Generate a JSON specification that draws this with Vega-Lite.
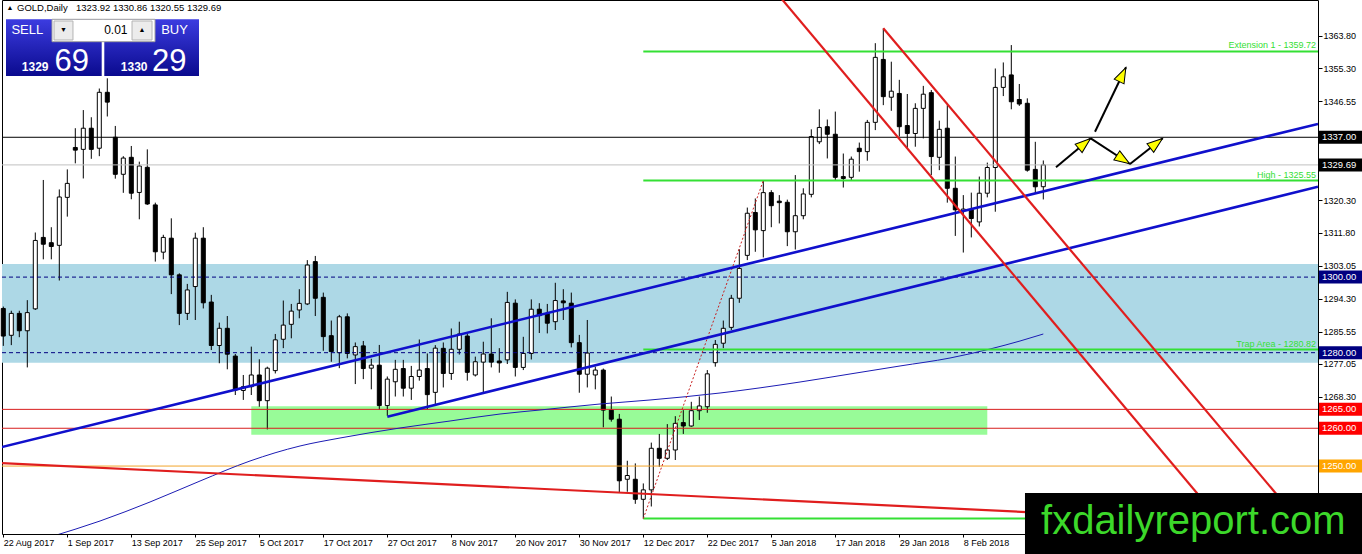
{
  "$schema": "https://vega.github.io/schema/vega-lite/v6.json",
  "description": "GOLD Daily, MT4 style chart with trend channels and levels",
  "width": 1316,
  "height": 534,
  "autosize": "none",
  "padding": {"left": 2, "top": 0, "right": 44, "bottom": 20},
  "background": "white",
  "view": {"stroke": "black", "strokeWidth": 1},
  "config": {"font": "Liberation Sans"},
  "datasets": {
    "candles": [
      {"d": "2017-08-22", "i": 0, "o": 1291.7, "h": 1292.2, "l": 1281.8, "c": 1284.4},
      {"d": "2017-08-23", "i": 1, "o": 1284.6, "h": 1291.1, "l": 1282.0, "c": 1290.4},
      {"d": "2017-08-24", "i": 2, "o": 1290.4, "h": 1291.1, "l": 1284.1, "c": 1285.8},
      {"d": "2017-08-25", "i": 3, "o": 1285.8, "h": 1293.9, "l": 1276.1, "c": 1290.6},
      {"d": "2017-08-28", "i": 4, "o": 1291.6, "h": 1311.8, "l": 1291.3, "c": 1309.7},
      {"d": "2017-08-29", "i": 5, "o": 1310.5, "h": 1325.7, "l": 1304.7, "c": 1308.7},
      {"d": "2017-08-30", "i": 6, "o": 1309.1, "h": 1313.2, "l": 1304.7, "c": 1308.1},
      {"d": "2017-08-31", "i": 7, "o": 1308.4, "h": 1323.2, "l": 1299.1, "c": 1321.2},
      {"d": "2017-09-01", "i": 8, "o": 1321.1, "h": 1328.5, "l": 1316.0, "c": 1324.8},
      {"d": "2017-09-04", "i": 9, "o": 1334.3, "h": 1339.4, "l": 1330.1, "c": 1333.6},
      {"d": "2017-09-05", "i": 10, "o": 1333.8, "h": 1344.2, "l": 1326.1, "c": 1339.4},
      {"d": "2017-09-06", "i": 11, "o": 1339.4, "h": 1342.3, "l": 1331.3, "c": 1333.8},
      {"d": "2017-09-07", "i": 12, "o": 1334.1, "h": 1349.9, "l": 1332.0, "c": 1348.9},
      {"d": "2017-09-08", "i": 13, "o": 1348.9, "h": 1352.6, "l": 1342.5, "c": 1346.3},
      {"d": "2017-09-11", "i": 14, "o": 1337.0, "h": 1340.0, "l": 1326.05, "c": 1327.2},
      {"d": "2017-09-12", "i": 15, "o": 1327.2, "h": 1332.0, "l": 1322.3, "c": 1331.5},
      {"d": "2017-09-13", "i": 16, "o": 1331.7, "h": 1334.7, "l": 1320.6, "c": 1322.2},
      {"d": "2017-09-14", "i": 17, "o": 1322.4, "h": 1330.55, "l": 1315.3, "c": 1329.4},
      {"d": "2017-09-15", "i": 18, "o": 1329.05, "h": 1333.8, "l": 1319.1, "c": 1319.35},
      {"d": "2017-09-18", "i": 19, "o": 1319.1, "h": 1319.7, "l": 1304.1, "c": 1306.7},
      {"d": "2017-09-19", "i": 20, "o": 1306.6, "h": 1311.2, "l": 1304.7, "c": 1310.5},
      {"d": "2017-09-20", "i": 21, "o": 1310.3, "h": 1315.55, "l": 1295.5, "c": 1300.6},
      {"d": "2017-09-21", "i": 22, "o": 1300.6, "h": 1301.0, "l": 1287.3, "c": 1290.4},
      {"d": "2017-09-22", "i": 23, "o": 1290.4, "h": 1298.2, "l": 1288.65, "c": 1296.6},
      {"d": "2017-09-25", "i": 24, "o": 1297.5, "h": 1311.75, "l": 1288.65, "c": 1310.3},
      {"d": "2017-09-26", "i": 25, "o": 1310.3, "h": 1313.2, "l": 1291.7, "c": 1293.2},
      {"d": "2017-09-27", "i": 26, "o": 1293.4, "h": 1295.3, "l": 1280.7, "c": 1281.9},
      {"d": "2017-09-28", "i": 27, "o": 1281.9, "h": 1287.95, "l": 1277.2, "c": 1286.45},
      {"d": "2017-09-29", "i": 28, "o": 1286.45, "h": 1289.7, "l": 1275.6, "c": 1279.6},
      {"d": "2017-10-02", "i": 29, "o": 1279.1, "h": 1279.65, "l": 1268.8, "c": 1270.1},
      {"d": "2017-10-03", "i": 30, "o": 1270.0, "h": 1274.1, "l": 1267.5, "c": 1271.0},
      {"d": "2017-10-04", "i": 31, "o": 1271.0, "h": 1281.6, "l": 1268.8, "c": 1274.1},
      {"d": "2017-10-05", "i": 32, "o": 1274.1, "h": 1278.25, "l": 1265.7, "c": 1267.3},
      {"d": "2017-10-06", "i": 33, "o": 1267.3, "h": 1276.3, "l": 1259.7, "c": 1275.9},
      {"d": "2017-10-09", "i": 34, "o": 1275.25, "h": 1284.95, "l": 1274.5, "c": 1283.4},
      {"d": "2017-10-10", "i": 35, "o": 1283.55, "h": 1293.8, "l": 1281.2, "c": 1287.3},
      {"d": "2017-10-11", "i": 36, "o": 1287.5, "h": 1292.9, "l": 1283.8, "c": 1291.0},
      {"d": "2017-10-12", "i": 37, "o": 1291.3, "h": 1296.8, "l": 1289.1, "c": 1293.05},
      {"d": "2017-10-13", "i": 38, "o": 1292.9, "h": 1304.5, "l": 1292.6, "c": 1303.2},
      {"d": "2017-10-16", "i": 39, "o": 1304.1, "h": 1305.6, "l": 1289.7, "c": 1294.4},
      {"d": "2017-10-17", "i": 40, "o": 1294.65, "h": 1295.9, "l": 1280.5, "c": 1284.25},
      {"d": "2017-10-18", "i": 41, "o": 1284.5, "h": 1288.5, "l": 1277.6, "c": 1280.3},
      {"d": "2017-10-19", "i": 42, "o": 1280.0, "h": 1290.0, "l": 1275.9, "c": 1289.5},
      {"d": "2017-10-20", "i": 43, "o": 1289.5, "h": 1290.4, "l": 1278.5, "c": 1279.8},
      {"d": "2017-10-23", "i": 44, "o": 1279.4, "h": 1282.7, "l": 1271.7, "c": 1281.6},
      {"d": "2017-10-24", "i": 45, "o": 1281.8, "h": 1283.1, "l": 1273.0, "c": 1275.8},
      {"d": "2017-10-25", "i": 46, "o": 1275.9, "h": 1278.4, "l": 1270.3, "c": 1276.7},
      {"d": "2017-10-26", "i": 47, "o": 1276.7, "h": 1282.05, "l": 1264.85, "c": 1266.0},
      {"d": "2017-10-27", "i": 48, "o": 1266.0, "h": 1273.7, "l": 1263.3, "c": 1273.0},
      {"d": "2017-10-30", "i": 49, "o": 1272.3, "h": 1278.1, "l": 1268.4, "c": 1275.6},
      {"d": "2017-10-31", "i": 50, "o": 1275.8, "h": 1278.1, "l": 1268.4, "c": 1270.6},
      {"d": "2017-11-01", "i": 51, "o": 1270.6, "h": 1276.5, "l": 1267.5, "c": 1273.7},
      {"d": "2017-11-02", "i": 52, "o": 1273.7, "h": 1283.5, "l": 1272.6, "c": 1275.4},
      {"d": "2017-11-03", "i": 53, "o": 1275.8, "h": 1279.8, "l": 1265.0, "c": 1268.9},
      {"d": "2017-11-06", "i": 54, "o": 1269.5, "h": 1282.0, "l": 1265.9, "c": 1281.2},
      {"d": "2017-11-07", "i": 55, "o": 1281.15, "h": 1282.7, "l": 1270.8, "c": 1274.5},
      {"d": "2017-11-08", "i": 56, "o": 1274.5, "h": 1286.4, "l": 1272.8, "c": 1280.9},
      {"d": "2017-11-09", "i": 57, "o": 1280.9, "h": 1288.2, "l": 1279.5, "c": 1284.95},
      {"d": "2017-11-10", "i": 58, "o": 1284.4, "h": 1285.1, "l": 1272.6, "c": 1274.8},
      {"d": "2017-11-13", "i": 59, "o": 1274.1, "h": 1278.95, "l": 1273.7, "c": 1277.6},
      {"d": "2017-11-14", "i": 60, "o": 1277.5, "h": 1282.9, "l": 1269.25, "c": 1279.65},
      {"d": "2017-11-15", "i": 61, "o": 1279.65, "h": 1289.1, "l": 1276.1, "c": 1277.5},
      {"d": "2017-11-16", "i": 62, "o": 1277.8, "h": 1281.2, "l": 1274.7, "c": 1277.3},
      {"d": "2017-11-17", "i": 63, "o": 1278.1, "h": 1296.1, "l": 1277.0, "c": 1293.3},
      {"d": "2017-11-20", "i": 64, "o": 1293.1, "h": 1294.1, "l": 1273.7, "c": 1276.1},
      {"d": "2017-11-21", "i": 65, "o": 1276.1, "h": 1284.2, "l": 1275.4, "c": 1279.8},
      {"d": "2017-11-22", "i": 66, "o": 1279.8, "h": 1294.1, "l": 1278.2, "c": 1291.5},
      {"d": "2017-11-23", "i": 67, "o": 1291.5, "h": 1293.1, "l": 1285.2, "c": 1289.8},
      {"d": "2017-11-24", "i": 68, "o": 1290.4, "h": 1292.9, "l": 1285.1, "c": 1287.8},
      {"d": "2017-11-27", "i": 69, "o": 1288.2, "h": 1298.5, "l": 1286.0, "c": 1293.8},
      {"d": "2017-11-28", "i": 70, "o": 1293.7, "h": 1296.8, "l": 1288.65, "c": 1293.2},
      {"d": "2017-11-29", "i": 71, "o": 1293.1, "h": 1295.9, "l": 1281.4, "c": 1282.65},
      {"d": "2017-11-30", "i": 72, "o": 1282.65, "h": 1284.7, "l": 1269.4, "c": 1274.3},
      {"d": "2017-12-01", "i": 73, "o": 1274.3, "h": 1288.65, "l": 1270.8, "c": 1279.9},
      {"d": "2017-12-04", "i": 74, "o": 1274.1, "h": 1276.3, "l": 1270.3, "c": 1275.4},
      {"d": "2017-12-05", "i": 75, "o": 1275.4, "h": 1275.8, "l": 1260.25, "c": 1264.8},
      {"d": "2017-12-06", "i": 76, "o": 1264.8, "h": 1268.4, "l": 1261.75, "c": 1262.4},
      {"d": "2017-12-07", "i": 77, "o": 1262.4, "h": 1263.8, "l": 1243.0, "c": 1246.1},
      {"d": "2017-12-08", "i": 78, "o": 1246.5, "h": 1251.4, "l": 1243.2, "c": 1247.5},
      {"d": "2017-12-11", "i": 79, "o": 1246.5, "h": 1250.7, "l": 1240.0, "c": 1241.2},
      {"d": "2017-12-12", "i": 80, "o": 1241.2, "h": 1245.4, "l": 1236.1, "c": 1243.7},
      {"d": "2017-12-13", "i": 81, "o": 1243.7, "h": 1256.2, "l": 1239.3, "c": 1254.7},
      {"d": "2017-12-14", "i": 82, "o": 1254.7, "h": 1258.5, "l": 1249.8, "c": 1252.05},
      {"d": "2017-12-15", "i": 83, "o": 1252.05, "h": 1261.1, "l": 1251.6, "c": 1254.25},
      {"d": "2017-12-18", "i": 84, "o": 1254.25, "h": 1263.2, "l": 1251.6, "c": 1261.3},
      {"d": "2017-12-19", "i": 85, "o": 1261.5, "h": 1264.8, "l": 1258.5, "c": 1260.6},
      {"d": "2017-12-20", "i": 86, "o": 1260.6, "h": 1267.0, "l": 1260.4, "c": 1264.65},
      {"d": "2017-12-21", "i": 87, "o": 1264.65, "h": 1268.4, "l": 1262.2, "c": 1265.9},
      {"d": "2017-12-22", "i": 88, "o": 1265.7, "h": 1275.4, "l": 1264.1, "c": 1274.4},
      {"d": "2017-12-26", "i": 89, "o": 1277.35, "h": 1283.35, "l": 1276.3, "c": 1282.2},
      {"d": "2017-12-27", "i": 90, "o": 1282.5, "h": 1288.5, "l": 1281.2, "c": 1286.45},
      {"d": "2017-12-28", "i": 91, "o": 1286.7, "h": 1295.3, "l": 1286.0, "c": 1294.4},
      {"d": "2017-12-29", "i": 92, "o": 1294.4, "h": 1307.35, "l": 1293.2, "c": 1302.3},
      {"d": "2018-01-02", "i": 93, "o": 1305.75, "h": 1318.4, "l": 1304.5, "c": 1316.9},
      {"d": "2018-01-03", "i": 94, "o": 1317.1, "h": 1320.8, "l": 1306.7, "c": 1312.5},
      {"d": "2018-01-04", "i": 95, "o": 1312.3, "h": 1325.55, "l": 1305.2, "c": 1322.35},
      {"d": "2018-01-05", "i": 96, "o": 1322.35, "h": 1323.0, "l": 1313.2, "c": 1318.9},
      {"d": "2018-01-08", "i": 97, "o": 1320.1, "h": 1321.7, "l": 1314.2, "c": 1319.7},
      {"d": "2018-01-09", "i": 98, "o": 1319.8, "h": 1320.5, "l": 1308.2, "c": 1312.0},
      {"d": "2018-01-10", "i": 99, "o": 1312.0, "h": 1327.0, "l": 1307.3, "c": 1316.25},
      {"d": "2018-01-11", "i": 100, "o": 1316.25, "h": 1323.5, "l": 1315.3, "c": 1322.0},
      {"d": "2018-01-12", "i": 101, "o": 1321.9, "h": 1339.1, "l": 1321.1, "c": 1337.2},
      {"d": "2018-01-15", "i": 102, "o": 1335.8, "h": 1344.4, "l": 1335.2, "c": 1339.6},
      {"d": "2018-01-16", "i": 103, "o": 1339.8, "h": 1341.7, "l": 1331.4, "c": 1337.8},
      {"d": "2018-01-17", "i": 104, "o": 1337.8, "h": 1343.8, "l": 1325.7, "c": 1326.4},
      {"d": "2018-01-18", "i": 105, "o": 1326.6, "h": 1332.7, "l": 1323.7, "c": 1326.1},
      {"d": "2018-01-19", "i": 106, "o": 1326.4, "h": 1331.9, "l": 1325.7, "c": 1331.2},
      {"d": "2018-01-22", "i": 107, "o": 1334.1, "h": 1335.6, "l": 1327.9, "c": 1333.2},
      {"d": "2018-01-23", "i": 108, "o": 1333.2, "h": 1341.6, "l": 1330.8, "c": 1340.95},
      {"d": "2018-01-24", "i": 109, "o": 1340.95, "h": 1361.9, "l": 1338.9, "c": 1358.15},
      {"d": "2018-01-25", "i": 110, "o": 1357.6, "h": 1365.8, "l": 1345.5, "c": 1347.75},
      {"d": "2018-01-26", "i": 111, "o": 1347.6, "h": 1357.0, "l": 1344.0, "c": 1349.2},
      {"d": "2018-01-29", "i": 112, "o": 1348.6, "h": 1352.2, "l": 1337.2, "c": 1339.8},
      {"d": "2018-01-30", "i": 113, "o": 1340.1, "h": 1348.45, "l": 1334.1, "c": 1338.0},
      {"d": "2018-01-31", "i": 114, "o": 1338.0, "h": 1346.0, "l": 1334.5, "c": 1344.65},
      {"d": "2018-02-01", "i": 115, "o": 1344.65, "h": 1350.6, "l": 1336.7, "c": 1348.4},
      {"d": "2018-02-02", "i": 116, "o": 1348.8, "h": 1349.5, "l": 1327.0, "c": 1331.9},
      {"d": "2018-02-05", "i": 117, "o": 1331.7, "h": 1341.4, "l": 1328.3, "c": 1339.1},
      {"d": "2018-02-06", "i": 118, "o": 1339.4, "h": 1345.5, "l": 1319.7, "c": 1323.5},
      {"d": "2018-02-07", "i": 119, "o": 1323.5, "h": 1331.9, "l": 1310.9, "c": 1317.8},
      {"d": "2018-02-08", "i": 120, "o": 1317.6, "h": 1321.7, "l": 1306.5, "c": 1318.0},
      {"d": "2018-02-09", "i": 121, "o": 1317.8, "h": 1322.35, "l": 1310.5, "c": 1315.5},
      {"d": "2018-02-12", "i": 122, "o": 1314.6, "h": 1326.6, "l": 1313.4, "c": 1322.2},
      {"d": "2018-02-13", "i": 123, "o": 1322.2, "h": 1330.3, "l": 1321.1, "c": 1329.0},
      {"d": "2018-02-14", "i": 124, "o": 1329.0, "h": 1355.2, "l": 1317.3, "c": 1350.2},
      {"d": "2018-02-15", "i": 125, "o": 1350.2, "h": 1356.8, "l": 1347.9, "c": 1353.0},
      {"d": "2018-02-16", "i": 126, "o": 1353.5, "h": 1361.4, "l": 1344.4, "c": 1346.4},
      {"d": "2018-02-19", "i": 127, "o": 1347.0, "h": 1351.1, "l": 1345.3, "c": 1345.8},
      {"d": "2018-02-20", "i": 128, "o": 1346.0, "h": 1347.3, "l": 1327.9, "c": 1328.3},
      {"d": "2018-02-21", "i": 129, "o": 1328.5, "h": 1335.8, "l": 1322.2, "c": 1323.9},
      {"d": "2018-02-22", "i": 130, "o": 1323.92, "h": 1330.86, "l": 1320.55, "c": 1329.69}
    ],
    "zones": [
      {"z": "trap", "i": -0.1625, "i2": 164.3375, "p": 1277.35, "p2": 1303.47},
      {"z": "support", "i": 31, "i2": 123, "p": 1258.3, "p2": 1265.8}
    ],
    "levels": [
      {"kind": "black", "p": 1337.0, "i": -0.1625, "i2": 164.3375},
      {"kind": "bid", "p": 1329.69, "i": -0.1625, "i2": 164.3375},
      {"kind": "dash", "p": 1300.0, "i": -0.1625, "i2": 164.3375},
      {"kind": "dash", "p": 1280.0, "i": -0.1625, "i2": 164.3375},
      {"kind": "red", "p": 1265.0, "i": -0.1625, "i2": 164.3375},
      {"kind": "red", "p": 1260.0, "i": -0.1625, "i2": 164.3375},
      {"kind": "orange", "p": 1250.0, "i": -0.1625, "i2": 164.3375}
    ],
    "ma": [
      {"i": 5.84, "p": 1231.22}, {"i": 12.09, "p": 1235.46}, {"i": 18.34, "p": 1240.49},
      {"i": 24.59, "p": 1246.04}, {"i": 30.84, "p": 1251.34}, {"i": 37.09, "p": 1255.31},
      {"i": 42.09, "p": 1257.42}, {"i": 49.59, "p": 1260.07}, {"i": 55.84, "p": 1261.92},
      {"i": 62.09, "p": 1263.77}, {"i": 67.09, "p": 1264.83}, {"i": 74.59, "p": 1266.42},
      {"i": 80.84, "p": 1267.48}, {"i": 89.59, "p": 1269.33}, {"i": 99.59, "p": 1272.24},
      {"i": 105.84, "p": 1274.36}, {"i": 112.09, "p": 1276.48}, {"i": 118.34, "p": 1278.59},
      {"i": 123.34, "p": 1280.97}, {"i": 127.09, "p": 1283.09}, {"i": 130, "p": 1284.94}
    ],
    "fib": [
      {"p": 1359.72, "i": 80, "i2": 164.3375, "t": "Extension 1 - 1359.72"},
      {"p": 1325.55, "i": 80, "i2": 164.3375, "t": "High - 1325.55"},
      {"p": 1280.82, "i": 80, "i2": 164.3375, "t": "Trap Area - 1280.82"},
      {"p": 1236.09, "i": 80, "i2": 164.3375, "t": ""}
    ],
    "fibtrend": [
      {"i": 80, "p": 1236.09}, {"i": 95, "p": 1325.55}
    ],
    "trends": [
      {"id": "blue1", "kind": "blue", "i": -0.4125, "p": 1254.91},
      {"id": "blue1", "kind": "blue", "i": 164.3375, "p": 1340.54},
      {"id": "blue2", "kind": "blue", "i": 48.0, "p": 1263.06},
      {"id": "blue2", "kind": "blue", "i": 164.3375, "p": 1323.9},
      {"id": "redA", "kind": "red", "i": 96.36, "p": 1375.97},
      {"id": "redA", "kind": "red", "i": 154.66, "p": 1229.11},
      {"id": "redB", "kind": "red", "i": 110.0, "p": 1365.84},
      {"id": "redB", "kind": "red", "i": 163.98, "p": 1230.43},
      {"id": "redL", "kind": "red", "i": -0.4125, "p": 1250.81},
      {"id": "redL", "kind": "red", "i": 164.3375, "p": 1234.14}
    ],
    "arrows": [
      {"id": "a1", "i": 131.5875, "p": 1329.055}, {"id": "a1", "i": 135.925, "p": 1336.729},
      {"id": "a2", "i": 136.4625, "p": 1338.476}, {"id": "a2", "i": 140.3375, "p": 1355.517},
      {"id": "a3", "i": 135.925, "p": 1336.729}, {"id": "a3", "i": 140.8375, "p": 1329.929},
      {"id": "a4", "i": 140.8375, "p": 1329.929}, {"id": "a4", "i": 144.925, "p": 1336.729}
    ],
    "heads": [
      {"id": "a1", "i": 135.16, "p": 1335.37},
      {"id": "a2", "i": 139.9, "p": 1353.61},
      {"id": "a3", "i": 140.0, "p": 1331.09},
      {"id": "a4", "i": 144.14, "p": 1335.42}
    ],
    "boxes": [
      {"kind": "black", "p": 1337.0, "i": 164.46, "i2": 169.9, "t": "1337.00"},
      {"kind": "black", "p": 1329.69, "i": 164.46, "i2": 169.9, "t": "1329.69"},
      {"kind": "navy", "p": 1300.0, "i": 164.46, "i2": 169.9, "t": "1300.00"},
      {"kind": "navy", "p": 1280.0, "i": 164.46, "i2": 169.9, "t": "1280.00"},
      {"kind": "red", "p": 1265.0, "i": 164.46, "i2": 169.9, "t": "1265.00"},
      {"kind": "red", "p": 1260.0, "i": 164.46, "i2": 169.9, "t": "1260.00"},
      {"kind": "orange", "p": 1250.0, "i": 164.46, "i2": 169.9, "t": "1250.00"}
    ],
    "watermark": [
      {"i": 127.71, "i2": 170.0, "p": 1242.87, "p2": 1225.0, "tx": 148.75, "ty": 1232.02, "t": "fxdailyreport.com"}
    ],
    "panel": [
      {"side": "sell", "i": 0.3375, "i2": 12.3, "p": 1368.219, "p2": 1353.215},
      {"side": "buy", "i": 12.625, "i2": 24.4625, "p": 1368.219, "p2": 1353.215}
    ],
    "spin": [
      {"i": 6.0875, "i2": 18.9625, "p": 1368.219, "p2": 1362.292}
    ],
    "buttons": [
      {"i": 6.34, "i2": 8.71, "p": 1367.77, "p2": 1362.742, "t": "▼", "tx": 7.525, "ty": 1365.26},
      {"i": 16.09, "i2": 18.59, "p": 1367.77, "p2": 1362.742, "t": "▲", "tx": 17.34, "ty": 1365.26}
    ],
    "paneltext": [
      {"i": 3.0, "p": 1365.26, "t": "SELL"},
      {"i": 21.4, "p": 1365.26, "t": "BUY"}
    ],
    "quotesmall": [
      {"i": 5.65, "p": 1354.54, "t": "1329"},
      {"i": 18.025, "p": 1354.54, "t": "1330"}
    ],
    "quotebig": [
      {"i": 6.4, "p": 1354.54, "t": "69"},
      {"i": 18.5875, "p": 1354.54, "t": "29"}
    ],
    "lot": [
      {"i": 15.525, "p": 1365.26, "t": "0.01"}
    ],
    "header": [
      {"i": 1.7125, "p": 1371.21, "t": "GOLD,Daily"},
      {"i": 9.0875, "p": 1371.21, "t": "1323.92 1330.86 1320.55 1329.69"}
    ],
    "headmark": [
      {"i": 0.4, "p": 1371.21, "t": "▲"}
    ]
  },
  "encoding": {
    "x": {
      "field": "i",
      "type": "quantitative",
      "scale": {"domain": [-0.1625, 164.3375], "nice": false, "zero": false, "padding": 0},
      "axis": {
        "orient": "bottom",
        "title": null,
        "grid": false,
        "domain": false,
        "values": [0, 8, 16, 24, 32, 40, 48, 56, 64, 72, 80, 88, 96, 104, 112, 120],
        "labelExpr": "['22 Aug 2017','1 Sep 2017','13 Sep 2017','25 Sep 2017','5 Oct 2017','17 Oct 2017','27 Oct 2017','8 Nov 2017','20 Nov 2017','30 Nov 2017','12 Dec 2017','22 Dec 2017','5 Jan 2018','17 Jan 2018','29 Jan 2018','8 Feb 2018'][round(datum.value / 8)]",
        "tickSize": 3,
        "tickColor": "black",
        "labelAlign": "left",
        "labelDx": -1,
        "labelPadding": 1,
        "labelFont": "Liberation Sans",
        "labelFontSize": 9,
        "labelColor": "black",
        "labelFlush": false,
        "labelOverlap": false
      }
    },
    "y": {
      "field": "p",
      "type": "quantitative",
      "scale": {"domain": [1232.02, 1373.326], "nice": false, "zero": false, "padding": 0},
      "axis": {
        "orient": "right",
        "title": null,
        "grid": false,
        "domain": false,
        "values": [1363.8, 1355.3, 1346.55, 1320.3, 1311.8, 1303.05, 1294.3, 1285.55, 1277.05, 1268.3],
        "format": ".2f",
        "tickSize": 4,
        "tickColor": "black",
        "labelPadding": 1,
        "labelFont": "Liberation Sans",
        "labelFontSize": 9,
        "labelColor": "black",
        "labelFlush": false,
        "labelOverlap": false
      }
    }
  },
  "layer": [
    {
      "data": {"name": "zones"},
      "mark": {"type": "rect"},
      "encoding": {
        "x2": {"field": "i2"},
        "y2": {"field": "p2"},
        "color": {"condition": {"test": "datum.z == 'trap'", "value": "#add8e6"}, "value": "#98fb98"}
      }
    },
    {
      "data": {"name": "candles"},
      "mark": {"type": "rule", "color": "black", "strokeWidth": 1},
      "encoding": {
        "y": {"field": "l", "type": "quantitative", "scale": {"domain": [1232.02, 1373.326], "nice": false, "zero": false, "padding": 0}},
        "y2": {"field": "h"}
      }
    },
    {
      "data": {"name": "candles"},
      "mark": {"type": "bar", "width": 4, "stroke": "black", "strokeWidth": 1},
      "encoding": {
        "y": {"field": "o", "type": "quantitative", "scale": {"domain": [1232.02, 1373.326], "nice": false, "zero": false, "padding": 0}},
        "y2": {"field": "c"},
        "color": {"condition": {"test": "datum.c >= datum.o", "value": "white"}, "value": "black"}
      }
    },
    {
      "data": {"name": "levels"},
      "mark": {"type": "rule", "strokeWidth": 1},
      "encoding": {
        "x2": {"field": "i2"},
        "color": {
          "condition": [
            {"test": "datum.kind == 'bid'", "value": "#c0c0c0"},
            {"test": "datum.kind == 'dash'", "value": "#000080"},
            {"test": "datum.kind == 'red'", "value": "#d81e1e"},
            {"test": "datum.kind == 'orange'", "value": "#f2a52a"}
          ],
          "value": "black"
        },
        "strokeDash": {"condition": {"test": "datum.kind == 'dash'", "value": [4, 3]}, "value": [1, 0]}
      }
    },
    {
      "data": {"name": "ma"},
      "mark": {"type": "line", "color": "#1c1cb4", "strokeWidth": 1, "clip": true, "interpolate": "monotone"},
      "encoding": {}
    },
    {
      "data": {"name": "fib"},
      "mark": {"type": "rule", "color": "#34e034", "strokeWidth": 2},
      "encoding": {"x2": {"field": "i2"}}
    },
    {
      "data": {"name": "fibtrend"},
      "mark": {"type": "line", "color": "#c81e1e", "strokeWidth": 1, "strokeDash": [2, 2]},
      "encoding": {}
    },
    {
      "data": {"name": "trends"},
      "mark": {"type": "line", "clip": true},
      "encoding": {
        "detail": {"field": "id"},
        "color": {"condition": {"test": "datum.kind == 'blue'", "value": "#1010cc"}, "value": "#e01e1e"},
        "strokeWidth": {"condition": {"test": "datum.kind == 'blue'", "value": 2.6}, "value": 2.2}
      }
    },
    {
      "data": {"name": "fib"},
      "mark": {"type": "text", "align": "right", "baseline": "bottom", "dx": -2, "dy": -1, "fontSize": 9, "color": "#34e034"},
      "encoding": {"x": {"field": "i2", "type": "quantitative", "scale": {"domain": [-0.1625, 164.3375], "nice": false, "zero": false, "padding": 0}}, "text": {"field": "t"}}
    },
    {
      "data": {"name": "arrows"},
      "mark": {"type": "line", "color": "black", "strokeWidth": 2},
      "encoding": {"detail": {"field": "id"}}
    },
    {
      "data": {"name": "heads"},
      "mark": {"type": "point", "shape": "M0,-1L0.7,1L-0.7,1Z", "filled": true, "fill": "#ffff00", "stroke": "black", "strokeWidth": 1, "size": 240, "opacity": 1},
      "encoding": {
        "angle": {"field": "id", "type": "nominal", "scale": {"type": "ordinal", "domain": ["a1", "a2", "a3", "a4"], "range": [50.1, 25.7, 123.2, 51.8]}, "legend": null}
      }
    },
    {
      "data": {"name": "boxes"},
      "mark": {"type": "rect", "height": 13},
      "encoding": {
        "x2": {"field": "i2"},
        "color": {
          "condition": [
            {"test": "datum.kind == 'navy'", "value": "#000080"},
            {"test": "datum.kind == 'red'", "value": "#ff0000"},
            {"test": "datum.kind == 'orange'", "value": "#ffa500"}
          ],
          "value": "black"
        }
      }
    },
    {
      "data": {"name": "boxes"},
      "mark": {"type": "text", "align": "left", "baseline": "middle", "dx": 3, "fontSize": 9.5, "color": "white"},
      "encoding": {"text": {"field": "t"}}
    },
    {
      "data": {"name": "watermark"},
      "mark": {"type": "rect", "color": "black"},
      "encoding": {"x2": {"field": "i2"}, "y2": {"field": "p2"}}
    },
    {
      "data": {"name": "watermark"},
      "mark": {"type": "text", "align": "center", "baseline": "alphabetic", "fontSize": 40, "color": "#3cd82a"},
      "encoding": {
        "x": {"field": "tx", "type": "quantitative", "scale": {"domain": [-0.1625, 164.3375], "nice": false, "zero": false, "padding": 0}},
        "y": {"field": "ty", "type": "quantitative", "scale": {"domain": [1232.02, 1373.326], "nice": false, "zero": false, "padding": 0}},
        "text": {"field": "t"}
      }
    },
    {
      "data": {"name": "panel"},
      "mark": {
        "type": "rect",
        "fill": {"gradient": "linear", "x1": 0, "y1": 0, "x2": 0, "y2": 1, "stops": [{"offset": 0, "color": "#3c3ce0"}, {"offset": 1, "color": "#0a0a8e"}]}
      },
      "encoding": {"x2": {"field": "i2"}, "y2": {"field": "p2"}}
    },
    {
      "data": {"name": "spin"},
      "mark": {"type": "rect", "fill": "white", "stroke": "#a0a0a0", "strokeWidth": 1},
      "encoding": {"x2": {"field": "i2"}, "y2": {"field": "p2"}}
    },
    {
      "data": {"name": "buttons"},
      "mark": {"type": "rect", "fill": "#ececec", "stroke": "#b4b4b4", "strokeWidth": 1},
      "encoding": {"x2": {"field": "i2"}, "y2": {"field": "p2"}}
    },
    {
      "data": {"name": "buttons"},
      "mark": {"type": "text", "align": "center", "baseline": "middle", "fontSize": 7, "color": "black"},
      "encoding": {
        "x": {"field": "tx", "type": "quantitative", "scale": {"domain": [-0.1625, 164.3375], "nice": false, "zero": false, "padding": 0}},
        "y": {"field": "ty", "type": "quantitative", "scale": {"domain": [1232.02, 1373.326], "nice": false, "zero": false, "padding": 0}},
        "text": {"field": "t"}
      }
    },
    {
      "data": {"name": "paneltext"},
      "mark": {"type": "text", "align": "center", "baseline": "middle", "fontSize": 13, "color": "white"},
      "encoding": {"text": {"field": "t"}}
    },
    {
      "data": {"name": "quotesmall"},
      "mark": {"type": "text", "align": "right", "baseline": "alphabetic", "fontSize": 12, "fontWeight": "bold", "color": "white"},
      "encoding": {"text": {"field": "t"}}
    },
    {
      "data": {"name": "quotebig"},
      "mark": {"type": "text", "align": "left", "baseline": "alphabetic", "fontSize": 31, "color": "white"},
      "encoding": {"text": {"field": "t"}}
    },
    {
      "data": {"name": "lot"},
      "mark": {"type": "text", "align": "right", "baseline": "middle", "fontSize": 12, "color": "black"},
      "encoding": {"text": {"field": "t"}}
    },
    {
      "data": {"name": "header"},
      "mark": {"type": "text", "align": "left", "baseline": "middle", "fontSize": 9.5, "color": "black"},
      "encoding": {"text": {"field": "t"}}
    },
    {
      "data": {"name": "headmark"},
      "mark": {"type": "text", "align": "left", "baseline": "middle", "fontSize": 7, "color": "black"},
      "encoding": {"text": {"field": "t"}}
    }
  ]
}
